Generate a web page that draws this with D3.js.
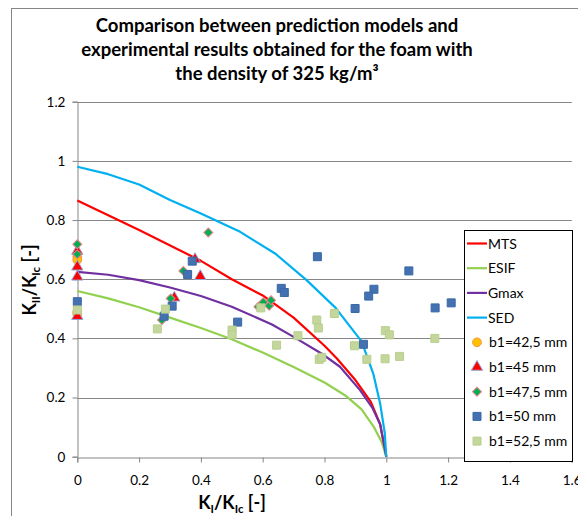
<!DOCTYPE html>
<html>
<head>
<meta charset="utf-8">
<script src="https://cdn.jsdelivr.net/npm/d3@7"></script>
<style>
  body { margin: 0; background: #fff; }
  svg { display: block; font-family: Lato, "Open Sans", sans-serif; }
</style>
</head>
<body>
<svg id="chart" width="578" height="516"></svg>
<script>
// model curves [KI/KIc, KII/KIc]
let mts  = [[0,0.866],[0.2,0.766],[0.4,0.662],[0.5,0.600],[0.6,0.545],[0.7,0.470],[0.8,0.375],[0.84,0.332],[0.9,0.259],[0.95,0.185],[0.98,0.11],[1,0]];
let esif = [[0,0.56],[0.1,0.535],[0.2,0.505],[0.3,0.47],[0.4,0.435],[0.5,0.397],[0.6,0.352],[0.7,0.303],[0.8,0.251],[0.87,0.205],[0.92,0.16],[0.96,0.1],[0.985,0.05],[1,0]];
let gmax = [[0,0.625],[0.1,0.615],[0.2,0.597],[0.3,0.572],[0.4,0.543],[0.5,0.507],[0.63,0.447],[0.7,0.405],[0.79,0.349],[0.85,0.304],[0.915,0.225],[0.955,0.165],[0.98,0.11],[1,0]];
let sed  = [[0,0.98],[0.1,0.955],[0.2,0.92],[0.3,0.868],[0.4,0.822],[0.527,0.76],[0.64,0.687],[0.742,0.597],[0.836,0.503],[0.92,0.39],[0.958,0.28],[0.98,0.18],[0.995,0.08],[1,0]];

// experimental points per b1
let b425 = [[0,0.675],[0,0.665],[0,0.49],[0,0.482]];
let b45  = [[0,0.695],[0,0.642],[0,0.608],[0,0.475],[0.381,0.667],[0.398,0.61],[0.314,0.537]];
let b475 = [[0,0.718],[0,0.684],[0.343,0.628],[0.302,0.535],[0.274,0.462],[0.424,0.758],[0.586,0.507],[0.602,0.522],[0.621,0.51],[0.627,0.529]];
let b50  = [[0,0.524],[0.372,0.661],[0.357,0.616],[0.307,0.509],[0.281,0.475],[0.519,0.455],[0.66,0.569],[0.67,0.555],[0.777,0.676],[1.073,0.628],[0.96,0.566],[0.943,0.543],[0.899,0.501],[1.158,0.503],[1.21,0.52],[0.926,0.38]];
let b525 = [[0,0.496],[0.285,0.499],[0.259,0.432],[0.501,0.428],[0.501,0.413],[0.594,0.503],[0.832,0.484],[0.775,0.462],[0.78,0.435],[0.714,0.409],[0.645,0.377],[0.783,0.329],[0.791,0.336],[0.997,0.426],[1.01,0.412],[1.157,0.4],[0.897,0.375],[0.937,0.329],[0.996,0.331],[1.043,0.339]];

let xTicks = [0,0.2,0.4,0.6,0.8,1,1.2,1.4,1.6];
let yTicks = [0,0.2,0.4,0.6,0.8,1,1.2];

let lineSeries = [
  {name: "MTS",  data: mts,  color: "#ff0000"},
  {name: "ESIF", data: esif, color: "#92d050"},
  {name: "Gmax", data: gmax, color: "#7030a0"},
  {name: "SED",  data: sed,  color: "#00b0f0"}
];
// rot = extra rotation of the symbol (diamond = square turned 45deg, like Excel)
let pointSeries = [
  {name: "b1=42,5 mm", data: b425, symbol: d3.symbolCircle,   size: 60, rot: 0,  fill: "#ffc000", stroke: "#f79646"},
  {name: "b1=45 mm",   data: b45,  symbol: d3.symbolTriangle, size: 55, rot: 0,  fill: "#ff0000", stroke: "#8ea9db"},
  {name: "b1=47,5 mm", data: b475, symbol: d3.symbolSquare,   size: 40, rot: 45, fill: "#00b050", stroke: "#e6808a"},
  {name: "b1=50 mm",   data: b50,  symbol: d3.symbolSquare,   size: 64, rot: 0,  fill: "#4472b0", stroke: "#3a68a8"},
  {name: "b1=52,5 mm", data: b525, symbol: d3.symbolSquare,   size: 64, rot: 0,  fill: "#c3d69b", stroke: "#b9cf8e"}
];

let svg = d3.select("#chart");

// outer chart frame
svg.append("rect")
  .attr("x", 11.5).attr("y", 8.5)
  .attr("width", 600).attr("height", 540)
  .attr("fill", "#fff").attr("stroke", "#868686");

let margin = {top: 101.7, left: 77.3, right: 571.7, bottom: 456.7};

let x = d3.scaleLinear().domain([0, 1.6]).range([margin.left, margin.right]);
let y = d3.scaleLinear().domain([0, 1.2]).range([margin.bottom, margin.top]);

// title
let title = svg.append("text")
  .attr("text-anchor", "middle")
  .attr("font-size", 18.5)
  .attr("font-weight", "bold")
  .attr("fill", "#000");
["Comparison between prediction models and",
 "experimental results obtained for the foam with",
 "the density of 325 kg/m\u00b3"].forEach((t, i) => {
  title.append("tspan").attr("x", 277).attr("y", 32 + i * 24).text(t);
});

// gridlines
svg.append("g")
  .selectAll("line")
  .data(yTicks.filter(d => d > 0))
  .join("line")
    .attr("x1", margin.left).attr("x2", margin.right)
    .attr("y1", d => Math.round(y(d)) + 0.5).attr("y2", d => Math.round(y(d)) + 0.5)
    .attr("stroke", "#868686");

// axes
let xAxis = d3.axisBottom(x).tickValues(xTicks).tickSize(5).tickFormat(d3.format("~g"));
let yAxis = d3.axisLeft(y).tickValues(yTicks).tickSize(5).tickFormat(d3.format("~g"));

let xGroup = svg.append("g")
  .attr("transform", "translate(0," + (Math.round(margin.bottom) + 0.5) + ")")
  .call(xAxis);
let yGroup = svg.append("g")
  .attr("transform", "translate(" + (Math.round(margin.left) + 0.5) + ",0)")
  .call(yAxis);

[xGroup, yGroup].forEach(g => {
  g.select(".domain").attr("stroke", "#868686");
  g.selectAll(".tick line").attr("stroke", "#868686");
  g.selectAll(".tick text")
    .attr("font-family", "Lato, sans-serif")
    .attr("font-size", 13.5)
    .attr("fill", "#000");
});
xGroup.selectAll(".tick text").attr("dy", "1.45em");
yGroup.selectAll(".tick text").attr("dx", "-0.3em");

// model curves
let line = d3.line().x(d => x(d[0])).y(d => y(d[1]));
svg.append("g")
  .selectAll("path")
  .data(lineSeries)
  .join("path")
    .attr("d", d => line(d.data))
    .attr("fill", "none")
    .attr("stroke", d => d.color)
    .attr("stroke-width", 2.2)
    .attr("stroke-linejoin", "round");

// experimental points
pointSeries.forEach(s => {
  svg.append("g")
    .selectAll("path")
    .data(s.data)
    .join("path")
      .attr("transform", d => "translate(" + x(d[0]) + "," + y(d[1]) + ") rotate(" + s.rot + ")")
      .attr("d", d3.symbol().type(s.symbol).size(s.size))
      .attr("fill", s.fill)
      .attr("stroke", s.stroke)
      .attr("stroke-width", 1);
});

// axis titles
let xt = svg.append("text")
  .attr("x", 232).attr("y", 509)
  .attr("text-anchor", "middle")
  .attr("font-size", 18).attr("font-weight", "bold");
xt.append("tspan").text("K");
xt.append("tspan").attr("font-size", 11.5).attr("dy", 4).text("I");
xt.append("tspan").attr("dy", -4).text("/K");
xt.append("tspan").attr("font-size", 11.5).attr("dy", 4).text("Ic");
xt.append("tspan").attr("dy", -4).text(" [-]");

let yt = svg.append("text")
  .attr("transform", "translate(36,280) rotate(-90)")
  .attr("text-anchor", "middle")
  .attr("font-size", 18).attr("font-weight", "bold");
yt.append("tspan").text("K");
yt.append("tspan").attr("font-size", 11.5).attr("dy", 4).text("II");
yt.append("tspan").attr("dy", -4).text("/K");
yt.append("tspan").attr("font-size", 11.5).attr("dy", 4).text("Ic");
yt.append("tspan").attr("dy", -4).text(" [-]");

// legend
let legend = svg.append("g");
legend.append("rect")
  .attr("x", 464.5).attr("y", 230.5)
  .attr("width", 108).attr("height", 231)
  .attr("fill", "#fff").attr("stroke", "#000");

let items = lineSeries.map(d => ({name: d.name, line: d})).concat(pointSeries.map(d => ({name: d.name, point: d})));
let rowY = i => 243.5 + i * 24.7;

items.forEach((it, i) => {
  let g = legend.append("g").attr("transform", "translate(0," + rowY(i) + ")");
  if (it.line) {
    g.append("line")
      .attr("x1", 467).attr("x2", 487)
      .attr("stroke", it.line.color).attr("stroke-width", 2.2);
    g.append("text").attr("x", 488).attr("dy", "0.36em")
      .attr("font-size", 14).text(it.name);
  } else {
    g.append("path")
      .attr("transform", "translate(477,0) rotate(" + it.point.rot + ")")
      .attr("d", d3.symbol().type(it.point.symbol).size(it.point.size))
      .attr("fill", it.point.fill)
      .attr("stroke", it.point.stroke);
    g.append("text").attr("x", 489).attr("dy", "0.36em")
      .attr("font-size", 14).text(it.name);
  }
});
</script>
</body>
</html>
